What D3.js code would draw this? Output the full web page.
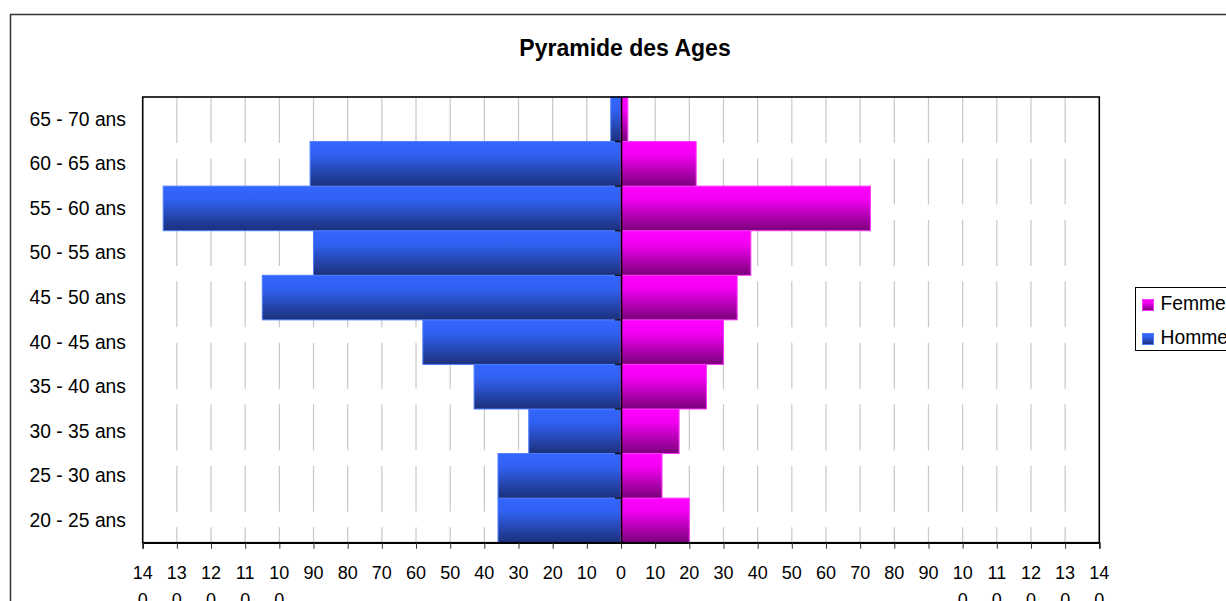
<!DOCTYPE html>
<html lang="fr">
<head>
  <meta charset="UTF-8">
  <title>Pyramide des Ages</title>
  <style>
    html, body { margin: 0; padding: 0; background: #fff; overflow: hidden; }
    svg text { font-family: Arial, "Liberation Sans", sans-serif; fill: #000; }
  </style>
  <script src="https://d3js.org/d3.v7.min.js"></script>
</head>
<body>
<div id="chart"></div>
<script>
  // Data, bottom to top
  var categories = ["20 - 25 ans", "25 - 30 ans", "30 - 35 ans", "35 - 40 ans", "40 - 45 ans",
                    "45 - 50 ans", "50 - 55 ans", "55 - 60 ans", "60 - 65 ans", "65 - 70 ans"];
  var hommes = [36, 36, 27, 43, 58, 105, 90, 134, 91, 3];
  var femmes = [20, 12, 17, 25, 30, 34, 38, 73, 22, 2];
  var tickValues = d3.range(-140, 141, 10);
  var seriesNames = ["Femme", "Homme"];

  var width = 1226, height = 601;
  var plot = { left: 142.7, right: 1099.3, top: 97, bottom: 542.7 };

  var svg = d3.select("#chart").append("svg")
      .attr("width", width)
      .attr("height", height)
      .style("display", "block");

  // gradients for the bars
  var defs = svg.append("defs");
  function gradient(id, c0, c1, c2) {
    var g = defs.append("linearGradient").attr("id", id)
        .attr("x1", 0).attr("y1", 0).attr("x2", 0).attr("y2", 1);
    g.append("stop").attr("offset", "0%").attr("stop-color", c0);
    g.append("stop").attr("offset", "30%").attr("stop-color", c1);
    g.append("stop").attr("offset", "100%").attr("stop-color", c2);
  }
  gradient("gradHomme", "#3366ff", "#3161f2", "#1b3079");
  gradient("gradFemme", "#ff00ff", "#f200f2", "#7a0079");

  // outer chart frame (runs past the right and bottom edges)
  svg.append("rect")
      .attr("x", 10.5).attr("y", 14.5)
      .attr("width", 1300).attr("height", 700)
      .attr("fill", "#fff")
      .attr("stroke", "#333").attr("stroke-width", 1.5);

  var x = d3.scaleLinear().domain([-140, 140]).range([plot.left, plot.right]);
  var y = d3.scaleBand().domain(categories.slice().reverse())
      .range([plot.top, plot.bottom]).padding(0);

  // title
  svg.append("text")
      .attr("x", 625).attr("y", 56)
      .attr("text-anchor", "middle")
      .style("font-size", "23px").style("font-weight", "bold")
      .text("Pyramide des Ages");

  // dashed vertical gridlines
  svg.append("g").selectAll("line")
      .data(tickValues.filter(function(d) { return d !== 0 && Math.abs(d) !== 140; }))
      .join("line")
      .attr("x1", function(d) { return x(d); })
      .attr("x2", function(d) { return x(d); })
      .attr("y1", plot.top).attr("y2", plot.bottom)
      .attr("stroke", "#c8c8c8").attr("stroke-width", 1.2)
      .attr("stroke-dasharray", "46 15.45");

  // bars
  var rows = categories.map(function(c, i) {
    return { cat: c, homme: hommes[i], femme: femmes[i] };
  });
  svg.append("g").selectAll("rect")
      .data(rows)
      .join("rect")
      .attr("x", function(d) { return x(-d.homme); })
      .attr("y", function(d) { return y(d.cat); })
      .attr("width", function(d) { return x(0) - x(-d.homme); })
      .attr("height", y.bandwidth())
      .attr("fill", "url(#gradHomme)")
      .attr("stroke", "#4d7dff").attr("stroke-width", 1);
  svg.append("g").selectAll("rect")
      .data(rows)
      .join("rect")
      .attr("x", x(0))
      .attr("y", function(d) { return y(d.cat); })
      .attr("width", function(d) { return x(d.femme) - x(0); })
      .attr("height", y.bandwidth())
      .attr("fill", "url(#gradFemme)")
      .attr("stroke", "#ff33ff").attr("stroke-width", 1);

  // plot frame
  svg.append("rect")
      .attr("x", plot.left).attr("y", plot.top)
      .attr("width", plot.right - plot.left).attr("height", plot.bottom - plot.top)
      .attr("fill", "none").attr("stroke", "#000").attr("stroke-width", 1.6);

  // x axis
  var xAxis = d3.axisBottom(x)
      .tickValues(tickValues)
      .tickSize(6)
      .tickFormat("");
  var gx = svg.append("g")
      .attr("transform", "translate(0," + plot.bottom + ")")
      .call(xAxis);
  gx.select(".domain").attr("stroke", "#000").attr("stroke-width", 1.6);
  gx.selectAll(".tick line").attr("stroke", "#333");

  // x tick labels, wrapped like the original (140 -> "14" / "0")
  var labels = svg.append("g").selectAll("text")
      .data(tickValues)
      .join("text")
      .attr("x", function(d) { return x(d); })
      .attr("y", 578.5)
      .attr("text-anchor", "middle")
      .style("font-size", "18px");
  labels.each(function(d) {
    var s = String(Math.abs(d));
    var t = d3.select(this);
    if (s.length > 2) {
      t.append("tspan").attr("x", x(d)).text(s.slice(0, 2));
      t.append("tspan").attr("x", x(d)).attr("dy", 27.5).text(s.slice(2));
    } else {
      t.text(s);
    }
  });

  // category axis at zero
  var yAxis = d3.axisLeft(y).tickSize(0).tickFormat("");
  var gy = svg.append("g")
      .attr("transform", "translate(" + x(0) + ",0)")
      .call(yAxis);
  gy.select(".domain").attr("stroke", "#000").attr("stroke-width", 1.6);
  // tick marks at band boundaries
  gy.selectAll(".bound")
      .data(categories)
      .join("line")
      .attr("class", "bound")
      .attr("x1", -6).attr("x2", 0)
      .attr("y1", function(d) { return y(d) + y.bandwidth(); })
      .attr("y2", function(d) { return y(d) + y.bandwidth(); })
      .attr("stroke", "#111").attr("stroke-width", 1.4);

  // category labels
  svg.append("g").selectAll("text")
      .data(categories)
      .join("text")
      .attr("x", 126)
      .attr("y", function(d) { return y(d) + y.bandwidth() / 2 + 6.5; })
      .attr("text-anchor", "end")
      .style("font-size", "19.3px")
      .text(function(d) { return d; });

  // legend (cut by the right edge, as in the original)
  var legend = svg.append("g");
  legend.append("rect")
      .attr("x", 1135.5).attr("y", 287.5)
      .attr("width", 140).attr("height", 63)
      .attr("fill", "#fff").attr("stroke", "#000").attr("stroke-width", 1);
  var legendFills = ["url(#gradFemme)", "url(#gradHomme)"];
  var legendStrokes = ["#ff33ff", "#4d7dff"];
  seriesNames.forEach(function(name, i) {
    legend.append("rect")
        .attr("x", 1142.5).attr("y", 299.5 + i * 34)
        .attr("width", 11).attr("height", 11)
        .attr("fill", legendFills[i]).attr("stroke", legendStrokes[i]);
    legend.append("text")
        .attr("x", 1160.5).attr("y", 309.5 + i * 34)
        .style("font-size", "19.3px")
        .text(name);
  });
</script>
</body>
</html>
